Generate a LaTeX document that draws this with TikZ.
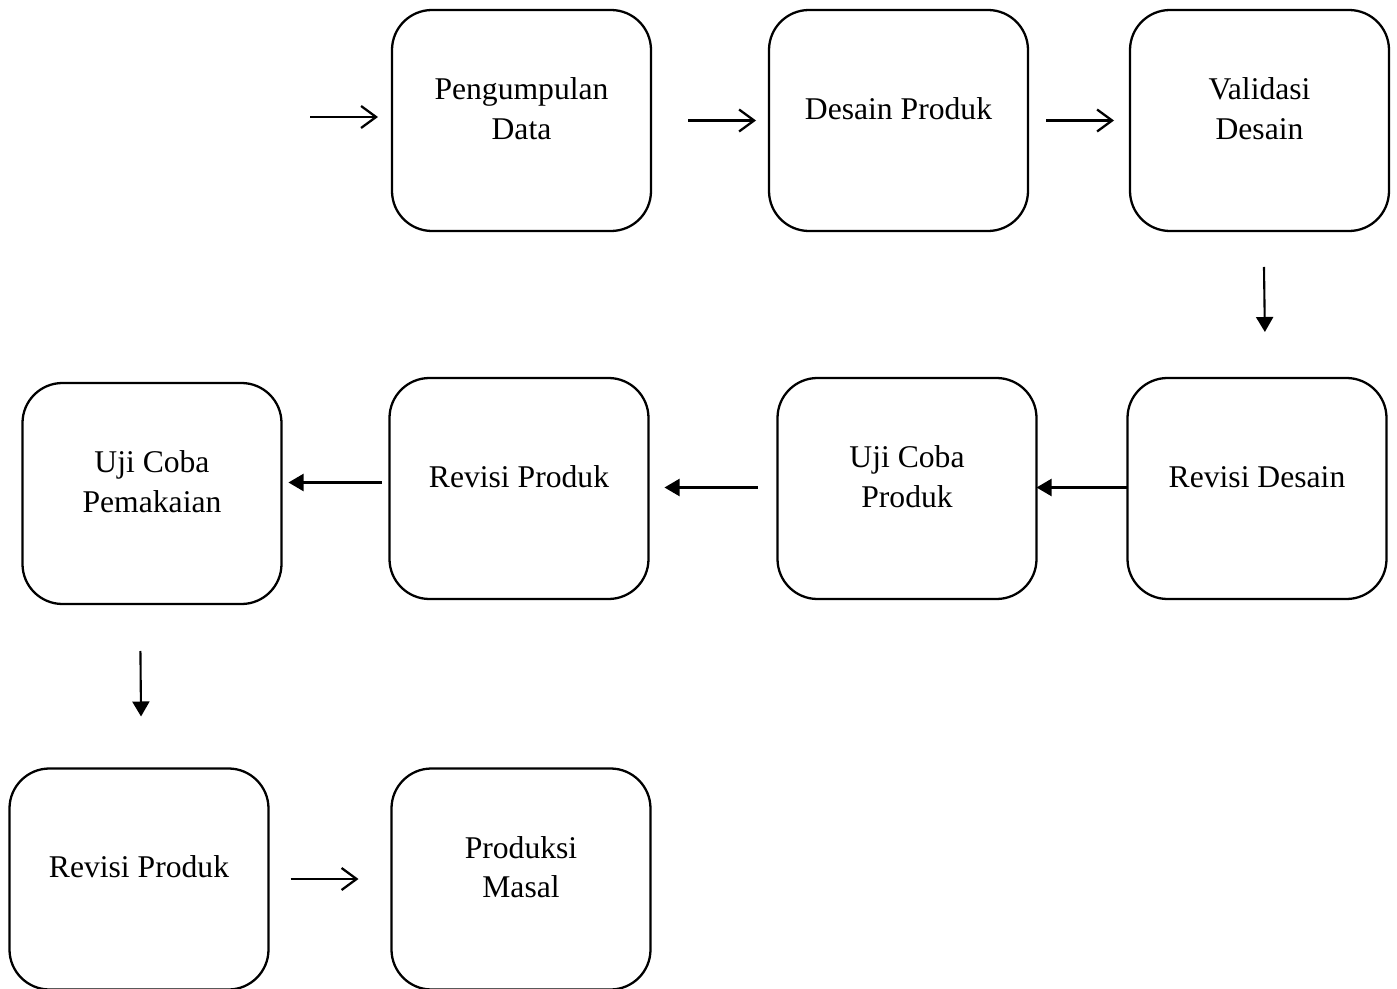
\documentclass[tikz,border=0pt]{standalone}
\usepackage{fontspec}
\setmainfont{Liberation Serif}
\usepackage{tikz}
\usetikzlibrary{positioning, arrows.meta}

\newcommand{\stagetext}[1]{\raisebox{1.8mm}[\height][\depth]{\begin{tabular}{@{}c@{}}#1\end{tabular}}}

\begin{document}
\begin{tikzpicture}[
    stagebox/.style={rectangle, rounded corners=0.8cm, draw, line width=1.3pt, outer sep=0pt, minimum width=5.18cm, minimum height=4.42cm, align=center, font=\fontsize{18}{22.7}\selectfont},
    openarrow/.style={-{Straight Barb[length=3mm, width=4.4mm]}, line width=1.3pt},
    fillarrow/.style={-{Triangle[length=3mm, width=3.4mm]}, line width=1.2pt},
]
\useasboundingbox (0,0) rectangle (27.94,-19.78);
% first row
\node[stagebox] (pengumpulan) at (10.43,-2.41) {\stagetext{Pengumpulan\\ Data}};
\node[stagebox, right=2.36cm of pengumpulan] (desain) {\stagetext{Desain Produk}};
\node[stagebox, right=2.04cm of desain] (validasi) {\stagetext{Validasi\\ Desain}};
% second row
\node[stagebox, below=2.94cm of validasi, xshift=-0.05cm] (revdesain) {\stagetext{Revisi Desain}};
\node[stagebox, left=1.82cm of revdesain] (ujiproduk) {\stagetext{Uji Coba\\ Produk}};
\node[stagebox, left=2.58cm of ujiproduk] (revproduk) {\stagetext{Revisi Produk}};
\node[stagebox, left=2.16cm of revproduk, yshift=-0.1cm] (ujipakai) {\stagetext{Uji Coba\\ Pemakaian}};
% third row
\node[stagebox, below=3.29cm of ujipakai, xshift=-0.26cm] (revproduk2) {\stagetext{Revisi Produk}};
\node[stagebox, right=2.46cm of revproduk2] (produksi) {\stagetext{Produksi\\ Masal}};
\coordinate (entry) at (6.2,-2.34);
\draw[openarrow, shorten >=0.28cm] (entry) -- (entry -| pengumpulan.west);
\draw[openarrow, shorten <=0.74cm, shorten >=0.26cm] (pengumpulan) -- (desain);
\draw[openarrow, shorten <=0.36cm, shorten >=0.32cm] (desain) -- (validasi);
\draw[fillarrow, shorten <=0.72cm, shorten >=0.92cm] ([xshift=0.08cm]validasi.south) -- ([xshift=0.17cm]revdesain.north);
\draw[fillarrow] ([yshift=0.02cm]revdesain.west) -- ([yshift=0.02cm]revdesain.west -| ujiproduk.east);
\draw[fillarrow, shorten <=0.4cm, shorten >=0.32cm] ([yshift=0.02cm]ujiproduk.west) -- ([yshift=0.02cm]ujiproduk.west -| revproduk.east);
\draw[fillarrow, shorten <=0.16cm, shorten >=0.14cm] ([yshift=0.12cm]revproduk.west) -- ([yshift=0.12cm]revproduk.west -| ujipakai.east);
\draw[fillarrow, shorten <=0.94cm, shorten >=1.04cm] ([xshift=-0.24cm]ujipakai.south) -- ([xshift=0.05cm]revproduk2.north);
\draw[openarrow, shorten <=0.44cm, shorten >=0.66cm] (revproduk2) -- (produksi);

\end{tikzpicture}
\end{document}
